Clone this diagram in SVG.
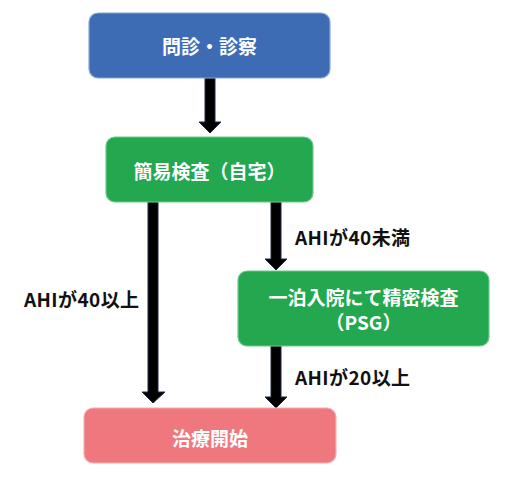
<svg xmlns="http://www.w3.org/2000/svg" width="510" height="486" viewBox="0 0 510 486">
<style>
.box{stroke-width:1.2}
.t{font-family:"Noto Sans CJK JP","Noto Sans",sans-serif;font-weight:bold;font-size:19px;fill:#fff;text-anchor:middle;dominant-baseline:central}
.l{font-family:"Noto Sans CJK JP","Noto Sans",sans-serif;font-weight:bold;font-size:19px;letter-spacing:0.4px;fill:#111}
.arr{fill:#000;stroke:#1f2a44;stroke-width:1}
</style>
<rect width="510" height="486" fill="#fff"/>
<g id="connectors">
<polygon class="arr" points="205,78 215,78 215,122 221,122 210,133 199,122 205,122"/>
<polygon class="arr" points="148,202 158,202 158,392 165,392 153,403 142,392 148,392"/>
<polygon class="arr" points="271,202 281,202 281,259 287,259 276,270 265,259 271,259"/>
<polygon class="arr" points="271,346 281,346 281,397 287,397 276,408 265,397 271,397"/>
</g>
<g id="labels">
<text class="l" x="295" y="245">AHIが40未満</text>
<text class="l" x="24" y="307">AHIが40以上</text>
<text class="l" x="295" y="385">AHIが20以上</text>
</g>
<g id="n1">
<rect class="box" x="89" y="13" width="241" height="65" rx="9" fill="#3D6CB4" stroke="#8aa6d6"/>
<text class="t" x="209.5" y="45">問診・診察</text>
</g>
<g id="n2">
<rect class="box" x="106" y="137" width="207" height="65" rx="9" fill="#23A84F" stroke="#6cc98a"/>
<text class="t" x="209.5" y="170">簡易検査（自宅）</text>
</g>
<g id="n3">
<rect class="box" x="238" y="271" width="251" height="75" rx="9" fill="#23A84F" stroke="#6cc98a"/>
<text class="t" x="363.5" y="296">一泊入院にて精密検査</text>
<text class="t" x="363.5" y="321">（PSG）</text>
</g>
<g id="n4">
<rect class="box" x="84" y="408" width="252" height="55" rx="9" fill="#EE787D" stroke="#f4b0b2"/>
<text class="t" x="210" y="437">治療開始</text>
</g>
</svg>
